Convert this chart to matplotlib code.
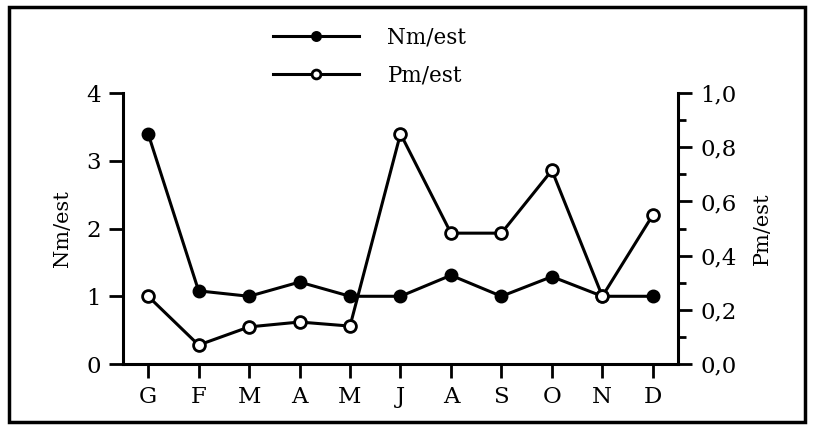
import numpy as np
import matplotlib
matplotlib.use("Agg")
from matplotlib import pyplot as plt
from matplotlib.patches import Rectangle
from matplotlib.ticker import FuncFormatter, MultipleLocator

# month initials (Italian)
months = ["G", "F", "M", "A", "M", "J", "A", "S", "O", "N", "D"]
nm_est = [3.40, 1.08, 1.00, 1.21, 1.00, 1.00, 1.31, 1.00, 1.29, 1.00, 1.00]
pm_est = [0.25, 0.07, 0.137, 0.155, 0.14, 0.85, 0.483, 0.483, 0.715, 0.25, 0.55]

plt.rcParams['font.family'] = ['DejaVu Serif']

fig = plt.figure(figsize=(8.14, 4.28), dpi=100)
ax = fig.add_axes([0.151, 0.1495, 0.682, 0.633])
ax2 = ax.twinx()

x = np.arange(len(months))
l1, = ax.plot(x, nm_est, color="black", lw=2.2, marker="o", ms=8.5,
              mfc="black", mec="black", mew=1.5, label="Nm/est", zorder=3)
l2, = ax2.plot(x, pm_est, color="black", lw=2.2, marker="o", ms=8.5,
               mfc="white", mec="black", mew=2, label="Pm/est", zorder=3)

ax.set_xlim(-0.5, len(months) - 0.5)
ax.set_ylim(0, 4)
ax2.set_ylim(0, 1.0)
ax.set_xticks(x)
ax.set_xticklabels(months)
ax.set_yticks([0, 1, 2, 3, 4])
ax2.yaxis.set_major_locator(MultipleLocator(0.2))
ax2.yaxis.set_minor_locator(MultipleLocator(0.1))
ax2.yaxis.set_major_formatter(FuncFormatter(lambda v, p: ("%.1f" % v).replace(".", ",")))

for a in (ax, ax2):
    a.spines["top"].set_visible(False)
    for s in a.spines.values():
        s.set_linewidth(2.2)
    a.tick_params(which="major", direction="out", length=10, width=2, labelsize=16.5, pad=6)
    a.tick_params(which="minor", direction="out", length=6, width=2)
ax.spines["right"].set_visible(False)
ax2.spines["left"].set_visible(False)
ax2.spines["bottom"].set_visible(False)

ax.set_ylabel("Nm/est", fontsize=15, labelpad=10)
ax2.set_ylabel("Pm/est", fontsize=15, labelpad=12)

fig.legend([l1, l2], ["Nm/est", "Pm/est"], loc="upper left",
           bbox_to_anchor=(0.312, 0.983), frameon=False, fontsize=15.5,
           handlelength=4, labelspacing=0.75, handletextpad=1.3, markerscale=0.75)

fig.patches.append(Rectangle((0.011, 0.015), 0.978, 0.968, transform=fig.transFigure,
                             fill=False, lw=2.5, edgecolor="black"))

fig.savefig("out.png", dpi=100)
